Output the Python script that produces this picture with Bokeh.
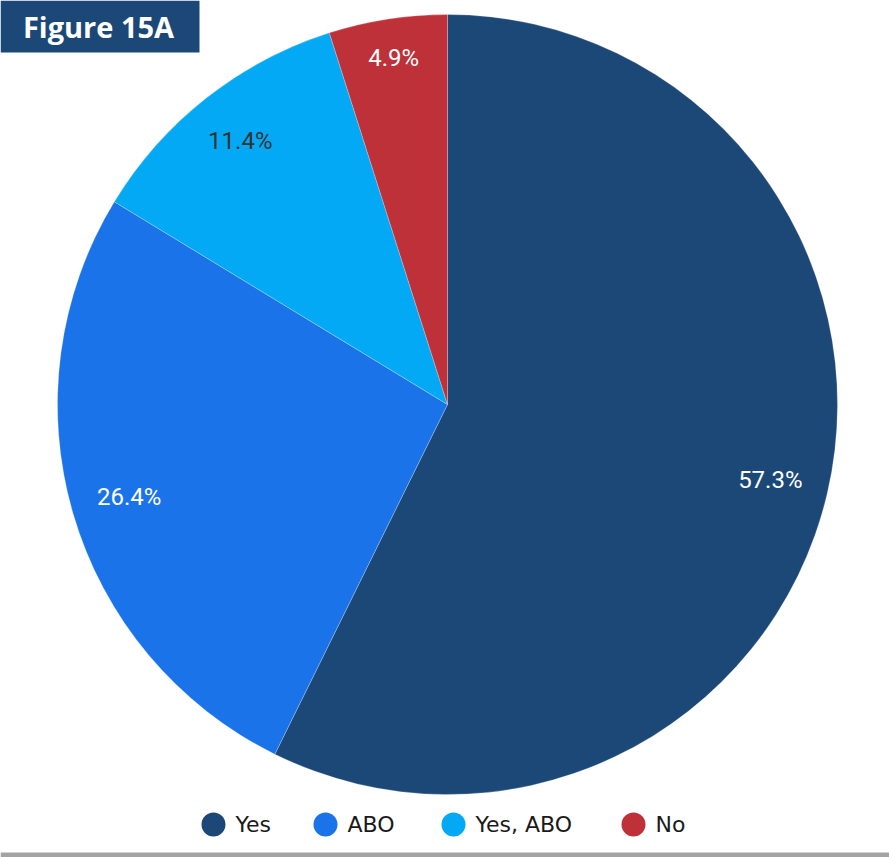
import math
from bokeh.plotting import figure
from bokeh.models import Range1d
from bokeh.core.properties import value
from bokeh.embed import file_html
from bokeh.resources import INLINE

# ---- data ----
categories = ["Yes", "ABO", "Yes, ABO", "No"]
shares = [57.3, 26.4, 11.4, 4.9]
labels = ["57.3%", "26.4%", "11.4%", "4.9%"]
colors = ["#1c4878", "#1a73e8", "#03a9f4", "#be3139"]
label_colors = ["#ffffff", "#ffffff", "#333333", "#ffffff"]
title_text = "Figure 15A"

# ---- layout ----
W, H = 889, 857
cx, cy, R = 447, 453, 390
label_r = [0.85, 0.85, 0.86, 0.9]
legend_circle_x = [213, 325, 453, 633]
legend_y = 33

p = figure(width=W, height=H, output_backend="svg", toolbar_location=None,
           x_range=Range1d(0, W), y_range=Range1d(0, H),
           x_axis_type=None, y_axis_type=None, min_border=0,
           outline_line_color=None, background_fill_color="white",
           border_fill_color="white")
p.grid.visible = False

total = sum(shares)
start = math.pi / 2
starts, ends, lx, ly = [], [], [], []
for i, s in enumerate(shares):
    sweep = 2 * math.pi * s / total
    a0 = start
    a1 = start - sweep
    starts.append(a1)
    ends.append(a0)
    mid = (a0 + a1) / 2
    lx.append(cx + label_r[i] * R * math.cos(mid))
    ly.append(cy + label_r[i] * R * math.sin(mid))
    start = a1

p.wedge(x=cx, y=cy, radius=R, start_angle=starts, end_angle=ends,
        fill_color=colors, line_color="white", line_width=0.4, line_alpha=0.6)

p.text(x=lx, y=ly, text=labels, text_color=label_colors,
       text_font=value("Roboto"), text_font_size="24px",
       text_align="center", text_baseline="middle")

# legend
p.scatter(x=legend_circle_x, y=[legend_y] * 4, size=24, marker="circle",
          fill_color=colors, line_color=None)
p.text(x=[x + 22 for x in legend_circle_x], y=[legend_y] * 4, text=categories,
       text_color="#1a1a1a", text_font=value("DejaVu Sans"), text_font_size="22px",
       text_align="left", text_baseline="middle")

# title box
p.quad(left=0, right=199, top=H, bottom=805, fill_color="#1c4878", line_color=None)
p.text(x=[98], y=[831], text=[title_text], text_color="white",
       text_font=value("Open Sans"), text_font_style="bold", text_font_size="29px",
       text_align="center", text_baseline="middle")

# bottom rule
p.quad(left=0, right=W, top=5, bottom=0, fill_color="#a3a3a3", line_color=None)

open("out.html", "w").write(file_html(p, INLINE))
